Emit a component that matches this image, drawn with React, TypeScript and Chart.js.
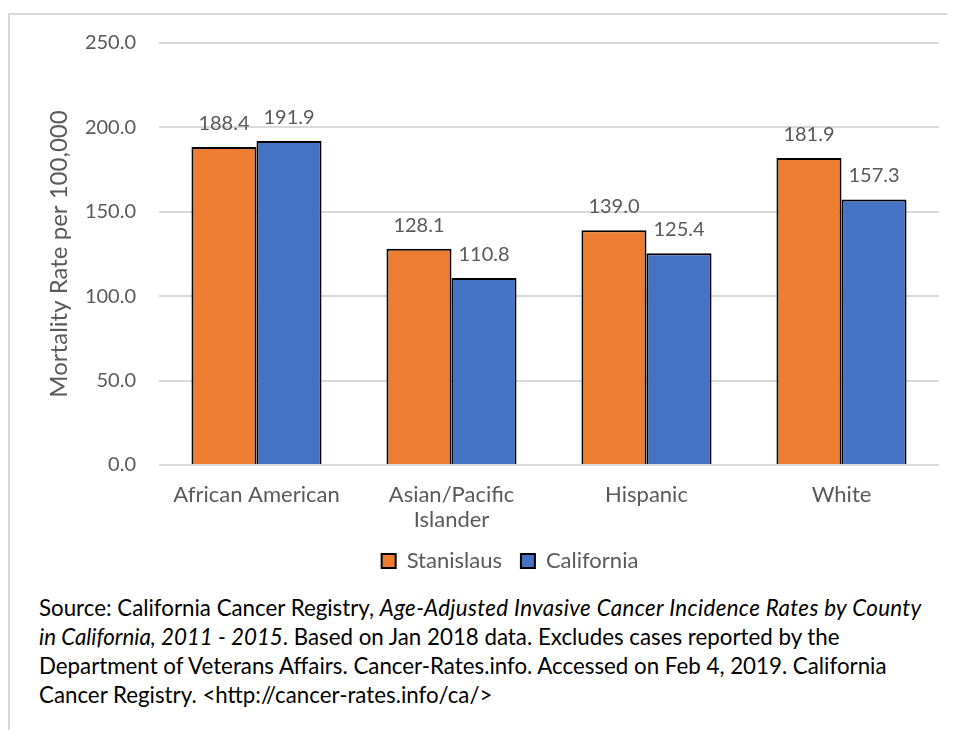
import React, { useEffect, useRef } from "react";
import { Chart, registerables } from "chart.js";

Chart.register(...registerables);

const categories: string[][] = [["African American"], ["Asian/Pacific", "Islander"], ["Hispanic"], ["White"]];
const stanislausValues = [188.4, 128.1, 139.0, 181.9];
const californiaValues = [191.9, 110.8, 125.4, 157.3];
const seriesNames = ["Stanislaus", "California"];
const yMin = 0;
const yMax = 250;
const yStep = 50;
const yTitle = "Mortality Rate per 100,000";

const GRAY = "#595959";
const FONT = "Lato";

const dataLabelPlugin = {
  id: "dataLabels",
  afterDatasetsDraw(chart: any) {
    const ctx = chart.ctx;
    ctx.save();
    ctx.font = `20px ${FONT}`;
    ctx.fillStyle = GRAY;
    ctx.textAlign = "center";
    ctx.textBaseline = "alphabetic";
    chart.data.datasets.forEach((ds: any, i: number) => {
      const meta = chart.getDatasetMeta(i);
      meta.data.forEach((el: any, j: number) => {
        const v = ds.data[j] as number;
        ctx.fillText(v.toFixed(1), el.x, el.y - 17);
      });
    });
    ctx.restore();
  },
};

export default function App() {
  const ref = useRef<HTMLCanvasElement | null>(null);

  useEffect(() => {
    if (!ref.current) return;
    const chart = new Chart(ref.current, {
      type: "bar",
      data: {
        labels: categories as any,
        datasets: [
          {
            label: seriesNames[0],
            data: stanislausValues,
            backgroundColor: "#ED7D31",
            borderColor: "#000000",
            borderWidth: 2,
            categoryPercentage: 0.667,
            barPercentage: 1,
          },
          {
            label: seriesNames[1],
            data: californiaValues,
            backgroundColor: "#4472C4",
            borderColor: "#000000",
            borderWidth: 2,
            categoryPercentage: 0.667,
            barPercentage: 1,
          },
        ],
      },
      options: {
        animation: false,
        responsive: false,
        devicePixelRatio: 1,
        layout: { padding: { left: 73, right: 16, top: 35, bottom: 3 } },
        plugins: {
          legend: {
            position: "bottom",
            labels: {
              boxWidth: 14,
              boxHeight: 14,
              padding: 19,
              color: GRAY,
              font: { family: FONT, size: 22 },
            },
          },
          tooltip: { enabled: false },
        },
        scales: {
          x: {
            grid: { display: false },
            border: { display: false },
            ticks: {
              color: GRAY,
              font: { family: FONT, size: 22, lineHeight: 1.12 },
              padding: 10,
              maxRotation: 0,
              autoSkip: false,
            },
            afterFit: (s: any) => {
              s.height = 66;
            },
          },
          y: {
            min: yMin,
            max: yMax,
            ticks: {
              stepSize: yStep,
              callback: (v: any) => Number(v).toFixed(1),
              padding: 23,
              color: GRAY,
              font: { family: FONT, size: 20 },
            },
            grid: { color: "#d9d9d9", lineWidth: 2, drawTicks: false },
            border: { display: false },
            title: {
              display: true,
              text: yTitle,
              color: GRAY,
              font: { family: FONT, size: 24 },
              padding: { top: -36.4, bottom: 0 },
            },
            afterFit: (s: any) => {
              s.width = 78;
            },
          },
        },
      },
      plugins: [dataLabelPlugin],
    });
    return () => chart.destroy();
  }, []);

  return (
    <div style={{ position: "relative", width: 947, height: 722, overflow: "hidden" }}>
      <div
        style={{
          position: "absolute",
          left: 0,
          top: 5,
          width: 1000,
          height: 800,
          border: "2px solid #d9d9d9",
          boxSizing: "border-box",
        }}
      />
      <canvas ref={ref} width={947} height={577} style={{ position: "absolute", left: 0, top: 0 }} />
      <div
        style={{
          position: "absolute",
          left: 31,
          top: 584.6,
          fontFamily: FONT,
          fontSize: 22.3,
          lineHeight: "29.3px",
          color: "#000",
          whiteSpace: "nowrap",
        }}
      >
        Source: California Cancer Registry,{" "}
        <i style={{ letterSpacing: "0.36px" }}>Age-Adjusted Invasive Cancer Incidence Rates by County</i>
        <br />
        <i>in California, 2011 - 2015</i>. Based on Jan 2018 data. Excludes cases reported by the
        <br />
        Department of Veterans Affairs. Cancer-Rates.info. Accessed on Feb 4, 2019. California
        <br />
        Cancer Registry. &lt;http://cancer-rates.info/ca/&gt;
      </div>
    </div>
  );
}
